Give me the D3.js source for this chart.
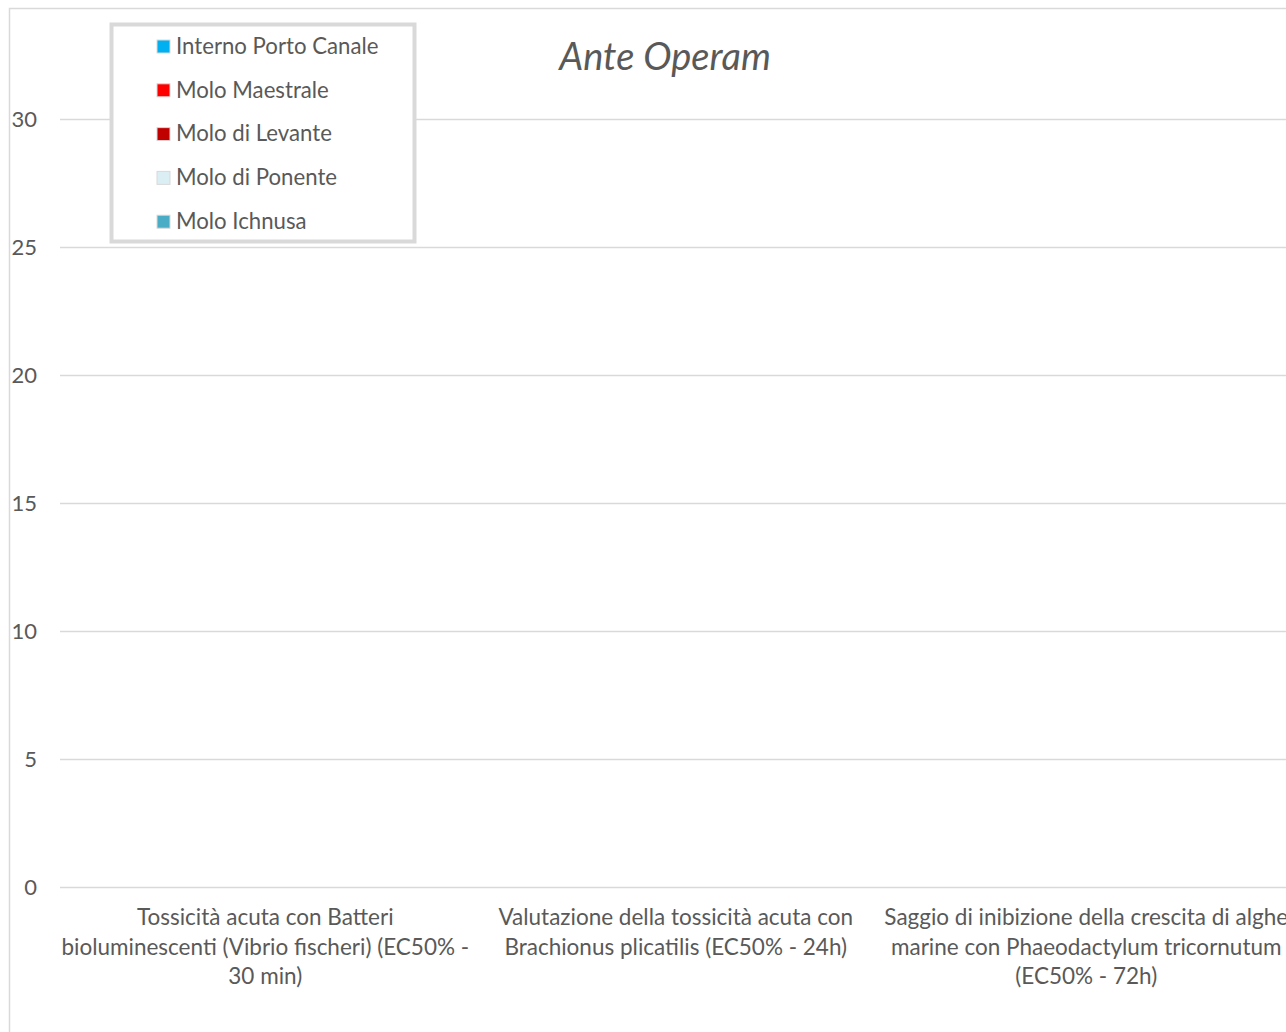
<!DOCTYPE html>
<html>
<head>
<meta charset="utf-8">
<script src="https://cdn.jsdelivr.net/npm/d3@7/dist/d3.min.js"></script>
<style>
  html, body { margin: 0; padding: 0; background: #fff; overflow: hidden; }
  svg { display: block; font-family: Lato, "Open Sans", sans-serif; }
</style>
</head>
<body>
<svg id="chart" width="1286" height="1032"></svg>
<script>
// Test categories (x axis), one line per label row
const categories = [
  ["Tossicità acuta con Batteri", "bioluminescenti (Vibrio fischeri) (EC50% -", "30 min)"],
  ["Valutazione della tossicità acuta con", "Brachionus plicatilis (EC50% - 24h)"],
  ["Saggio di inibizione della crescita di alghe", "marine con Phaeodactylum tricornutum", "(EC50% - 72h)"]
];
// Sampling stations (series)
const seriesNames = ["Interno Porto Canale", "Molo Maestrale", "Molo di Levante", "Molo di Ponente", "Molo Ichnusa"];
const seriesColors = ["#00B0F0", "#FF0000", "#C00000", "#DAEEF3", "#4BACC6"];
// Values per station, one per test (no measurable toxicity)
const interno = [0, 0, 0];
const maestrale = [0, 0, 0];
const levante = [0, 0, 0];
const ponente = [0, 0, 0];
const ichnusa = [0, 0, 0];
const yTicks = [0, 5, 10, 15, 20, 25, 30];
const title = "Ante Operam";

const seriesValues = [interno, maestrale, levante, ponente, ichnusa];

const svg = d3.select("#chart");
const plot = { left: 60, right: 1291.5, top: 119, bottom: 887 };

// outer chart border
svg.append("rect")
  .attr("x", 9.5).attr("y", 8.5).attr("width", 1400).attr("height", 1100)
  .attr("fill", "#fff").attr("stroke", "#d9d9d9").attr("stroke-width", 1.5);

const x = d3.scaleBand().domain(d3.range(categories.length))
  .range([plot.left, plot.right]).paddingInner(0).paddingOuter(0);
const y = d3.scaleLinear().domain([0, 30]).range([plot.bottom, plot.top]);
const xs = d3.scaleBand().domain(d3.range(seriesNames.length))
  .range([0, x.bandwidth()]).paddingInner(0).paddingOuter(1);

// horizontal gridlines
const yAxis = d3.axisLeft(y).tickValues(yTicks).tickSize(-(plot.right - plot.left)).tickPadding(23);
const gy = svg.append("g").attr("transform", `translate(${plot.left},0)`).call(yAxis);
gy.select(".domain").remove();
gy.selectAll(".tick line").attr("stroke", "#d9d9d9").attr("stroke-width", 1.3);
gy.selectAll(".tick text").attr("fill", "#595959").attr("font-size", 22)
  .attr("font-family", "Lato, 'Open Sans', sans-serif").attr("dy", "0.32em");

// bars
const bars = svg.append("g");
seriesValues.forEach((vals, si) => {
  bars.selectAll(null).data(vals).join("rect")
    .attr("x", (d, i) => x(i) + xs(si))
    .attr("y", d => y(d))
    .attr("width", xs.bandwidth())
    .attr("height", d => y(0) - y(d))
    .attr("fill", seriesColors[si]);
});

// category labels
const gx = svg.append("g");
categories.forEach((lines, i) => {
  const t = gx.append("text")
    .attr("x", x(i) + x.bandwidth() / 2)
    .attr("y", 925)
    .attr("text-anchor", "middle")
    .attr("fill", "#595959")
    .attr("font-size", 22.5);
  lines.forEach((ln, k) => {
    t.append("tspan").attr("x", x(i) + x.bandwidth() / 2).attr("dy", k === 0 ? 0 : 29.5).text(ln);
  });
});

// title
svg.append("text")
  .attr("x", 665).attr("y", 70)
  .attr("text-anchor", "middle")
  .attr("font-size", 38).attr("font-style", "italic")
  .attr("fill", "#595959")
  .text(title);

// legend
const lg = svg.append("g");
lg.append("rect").attr("x", 111.5).attr("y", 24.5).attr("width", 303).attr("height", 217)
  .attr("fill", "#fff").attr("stroke", "#d9d9d9").attr("stroke-width", 4);
seriesNames.forEach((name, i) => {
  const cy = 46 + i * 43.8;
  lg.append("rect").attr("x", 157).attr("y", cy - 6).attr("width", 13).attr("height", 13)
    .attr("fill", seriesColors[i]).attr("stroke", "#d9d9d9").attr("stroke-width", 1);
  lg.append("text").attr("x", 176).attr("y", cy).attr("dy", "0.35em")
    .attr("font-size", 22.2).attr("fill", "#595959").text(name);
});
</script>
</body>
</html>
